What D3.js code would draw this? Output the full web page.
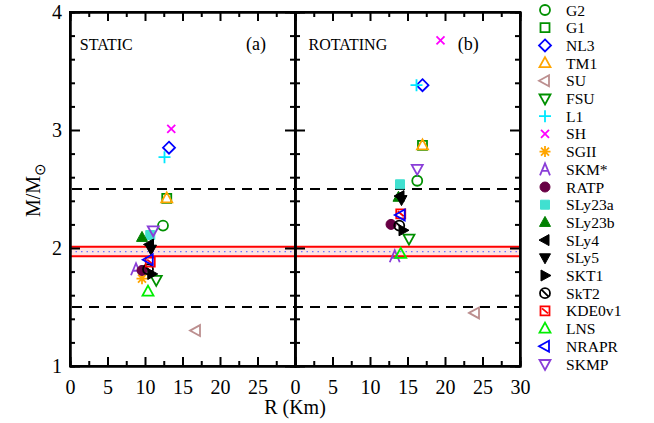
<!DOCTYPE html>
<html>
<head>
<meta charset="utf-8">
<script src="https://cdn.jsdelivr.net/npm/d3@7"></script>
<style>
  body { margin: 0; background: #fff; }
  svg text { font-family: "Liberation Serif", "Times New Roman", Times, serif !important; fill: #000; }
</style>
</head>
<body>
<script>
// model names (legend order)
const models = ["G2","G1","NL3","TM1","SU","FSU","L1","SH","SGII","SKM*","RATP","SLy23a",
                "SLy23b","SLy4","SLy5","SKT1","SkT2","KDE0v1","LNS","NRAPR","SKMP"];

// static stars: radius (km) and max mass
const staticR = [12.4,12.9,13.2,12.9,16.8,11.5,12.6,13.5,9.6,8.8,9.6,10.7,9.6,10.6,10.8,10.9,10.4,10.7,10.4,10.5,11.1];
const staticM = [2.19,2.42,2.85,2.42,1.30,1.73,2.77,3.01,1.74,1.82,1.81,2.11,2.09,2.03,1.99,1.78,1.82,1.88,1.63,1.90,2.15];

// rotating stars
const rotR = [16.3,17.0,17.0,17.0,24.0,15.2,16.2,19.4,null,13.3,12.8,14.0,13.8,14.0,14.2,14.4,13.9,14.1,14.1,14.1,16.3];
const rotM = [2.57,2.87,3.38,2.87,1.45,2.08,3.38,3.76,null,1.93,2.20,2.54,2.43,2.44,2.41,2.15,2.19,2.29,1.95,2.28,2.67];

// reference lines
const dashedM = [2.5, 1.5];
const bandM = [1.93, 2.01];
const bandMid = 1.97;

const yTicks = [1,2,3,4];

// marker style per model
const styles = {
  "G2":     {shape:"circle",   color:"#009000"},
  "G1":     {shape:"square",   color:"#009000"},
  "NL3":    {shape:"diamond",  color:"#0000ff"},
  "TM1":    {shape:"triUp",    color:"#ffa500"},
  "SU":     {shape:"triLeft",  color:"#bc8f8f"},
  "FSU":    {shape:"triDown",  color:"#009000"},
  "L1":     {shape:"plus",     color:"#00e8ff"},
  "SH":     {shape:"times",    color:"#ff00ff"},
  "SGII":   {shape:"star",     color:"#ffa500"},
  "SKM*":   {shape:"letterA",  color:"#8a3ed8"},
  "RATP":   {shape:"circle",   color:"#680044", fill:true},
  "SLy23a": {shape:"square",   color:"#40e0d0", fill:true},
  "SLy23b": {shape:"triUp",    color:"#008000", fill:true},
  "SLy4":   {shape:"triLeft",  color:"#000000", fill:true},
  "SLy5":   {shape:"triDown",  color:"#000000", fill:true},
  "SKT1":   {shape:"triRight", color:"#000000", fill:true},
  "SkT2":   {shape:"circSlash",color:"#000000"},
  "KDE0v1": {shape:"sqSlash",  color:"#ff0000"},
  "LNS":    {shape:"triUp",    color:"#00ee00"},
  "NRAPR":  {shape:"triLeft",  color:"#0000ff"},
  "SKMP":   {shape:"triDown",  color:"#8a3ed8"}
};

const shapes = {
  circle:   "M5,0A5,5 0 1,1 -5,0A5,5 0 1,1 5,0Z",
  square:   "M-4.5,-4.5H4.5V4.5H-4.5Z",
  diamond:  "M0,-6L6,0L0,6L-6,0Z",
  triUp:    "M0,-6L5.5,4L-5.5,4Z",
  triDown:  "M0,6L5.5,-4L-5.5,-4Z",
  triLeft:  "M-6,0L4,-5.5L4,5.5Z",
  triRight: "M6,0L-4,-5.5L-4,5.5Z",
  plus:     "M-6,0H6M0,-6V6",
  times:    "M-4,-4L4,4M-4,4L4,-4",
  star:     "M-5.5,0H5.5M0,-5.5V5.5M-4,-4L4,4M-4,4L4,-4",
  letterA:  "M-5,6L0,-6L5,6M-3,1.5H3",
  circSlash:"M5,0A5,5 0 1,1 -5,0A5,5 0 1,1 5,0ZM-3,-3L3,3",
  sqSlash:  "M-4.5,-4.5H4.5V4.5H-4.5ZM-3,-2.5L3,2.5"
};

const serif = "'Liberation Serif', 'Times New Roman', serif";

const width = 654, height = 423;
const svg = d3.select("body").append("svg")
    .attr("width", width)
    .attr("height", height)
    .attr("font-family", serif);

const x0L = 70, xMid = 295, x1R = 520, yTop = 12, yBot = 366;

const xL = d3.scaleLinear().domain([0,30]).range([x0L, xMid]);
const xR = d3.scaleLinear().domain([0,30]).range([xMid, x1R]);
const y = d3.scaleLinear().domain([1,4]).range([yBot, yTop]);

// band 1.97 +/- 0.04
svg.append("rect")
  .attr("x", x0L).attr("width", x1R - x0L)
  .attr("y", y(bandM[1])).attr("height", y(bandM[0]) - y(bandM[1]))
  .attr("fill", "#ffe4e4");
svg.append("line")
  .attr("x1", x0L).attr("x2", x1R)
  .attr("y1", y(bandMid)).attr("y2", y(bandMid))
  .attr("stroke", "#7070ff").attr("stroke-width", 1.2)
  .attr("stroke-dasharray", "1.5,4");
bandM.forEach(m =>
  svg.append("line")
    .attr("x1", x0L).attr("x2", x1R)
    .attr("y1", y(m)).attr("y2", y(m))
    .attr("stroke", "#ff0000").attr("stroke-width", 2)
);
dashedM.forEach(m =>
  svg.append("line")
    .attr("x1", x0L + 2).attr("x2", x1R)
    .attr("y1", y(m)).attr("y2", y(m))
    .attr("stroke", "#000").attr("stroke-width", 2)
    .attr("stroke-dasharray", "10,7")
);

// axes: ticks pointing inward, on every side of each panel
function drawAxes(x, showLast){
  const major = d3.range(0, 31, 5);
  const minor = d3.range(2.5, 30, 5);
  const yMinor = d3.range(1, 4.001, 0.2).filter(v => Math.abs(v - Math.round(v)) > 0.01);
  const [a0, a1] = x.range();

  const b = svg.append("g").attr("transform", `translate(0,${yBot})`);
  b.call(d3.axisBottom(x).tickValues(major).tickSizeInner(-9).tickSizeOuter(0).tickPadding(14)
           .tickFormat(d => (d === 30 && !showLast) ? "" : d));
  b.append("g").call(d3.axisBottom(x).tickValues(minor).tickSize(-5).tickFormat(""));

  const t = svg.append("g").attr("transform", `translate(0,${yTop})`);
  t.call(d3.axisTop(x).tickValues(major).tickSizeInner(-9).tickSizeOuter(0).tickFormat(""));
  t.append("g").call(d3.axisTop(x).tickValues(minor).tickSize(-5).tickFormat(""));

  const l = svg.append("g").attr("transform", `translate(${a0},0)`);
  l.call(d3.axisLeft(y).tickValues(yTicks).tickSizeInner(-10).tickSizeOuter(0).tickPadding(8)
           .tickFormat(d => a0 === x0L ? d : ""));
  l.append("g").call(d3.axisLeft(y).tickValues(yMinor).tickSize(-5).tickFormat(""));

  const r = svg.append("g").attr("transform", `translate(${a1},0)`);
  r.call(d3.axisRight(y).tickValues(yTicks).tickSizeInner(-10).tickSizeOuter(0).tickFormat(""));
  r.append("g").call(d3.axisRight(y).tickValues(yMinor).tickSize(-5).tickFormat(""));

  svg.selectAll(".domain").attr("stroke-width", 2);
  svg.selectAll(".tick line").attr("stroke-width", 2);
  svg.selectAll("g").attr("font-family", serif);
  svg.selectAll(".tick text")
    .attr("font-size", 20)
    .style("font-family", serif);
}
drawAxes(xL, false);
drawAxes(xR, true);

// frame lines on top of the axes
svg.append("rect")
  .attr("x", x0L).attr("y", yTop)
  .attr("width", x1R - x0L).attr("height", yBot - yTop)
  .attr("fill", "none").attr("stroke", "#000").attr("stroke-width", 2);
svg.append("line")
  .attr("x1", xMid).attr("x2", xMid).attr("y1", yTop).attr("y2", yBot)
  .attr("stroke", "#000").attr("stroke-width", 2);

// axis titles
svg.append("text")
  .attr("x", xMid).attr("y", 414)
  .attr("text-anchor", "middle")
  .style("font-family", serif)
  .style("font-size", "20px")
  .text("R (Km)");

const yl = svg.append("text")
  .attr("transform", "translate(40,190) rotate(-90)")
  .attr("text-anchor", "middle")
  .style("font-family", serif)
  .style("font-size", "20px");
yl.append("tspan").text("M/M");
yl.append("tspan").attr("dy", 5).style("font-size", "15px").text("⊙");

// panel labels
const labels = [
  {x: xL(1.3), t: "STATIC", a: "start"},
  {x: xL(24.8), t: "(a)", a: "middle"},
  {x: xR(1.8), t: "ROTATING", a: "start"},
  {x: xR(23.1), t: "(b)", a: "middle"}
];
labels.forEach(d =>
  svg.append("text")
    .attr("x", d.x).attr("y", 50)
    .attr("text-anchor", d.a)
    .style("font-family", serif)
    .style("font-size", d.t.length > 3 ? "16px" : "18px")
    .text(d.t)
);

function marker(g, name){
  const s = styles[name];
  g.append("path")
    .attr("d", shapes[s.shape])
    .attr("fill", s.fill ? s.color : "none")
    .attr("stroke", s.color)
    .attr("stroke-width", s.fill ? 1 : 1.8)
    .attr("stroke-linejoin", "miter");
}

// data points
const plot = svg.append("g");
models.forEach((name, i) => {
  if (staticR[i] != null) {
    marker(plot.append("g").attr("transform", `translate(${xL(staticR[i])},${y(staticM[i])})`), name);
  }
  if (rotR[i] != null) {
    marker(plot.append("g").attr("transform", `translate(${xR(rotR[i])},${y(rotM[i])})`), name);
  }
});

// legend
const legend = svg.append("g").attr("transform", "translate(545,10)");
models.forEach((name, i) => {
  const row = legend.append("g").attr("transform", `translate(0,${i * 17.7})`);
  marker(row, name);
  row.append("text")
    .attr("x", 21).attr("y", 5.5)
    .style("font-family", serif)
    .style("font-size", "15.6px")
    .text(name);
});
</script>
</body>
</html>
